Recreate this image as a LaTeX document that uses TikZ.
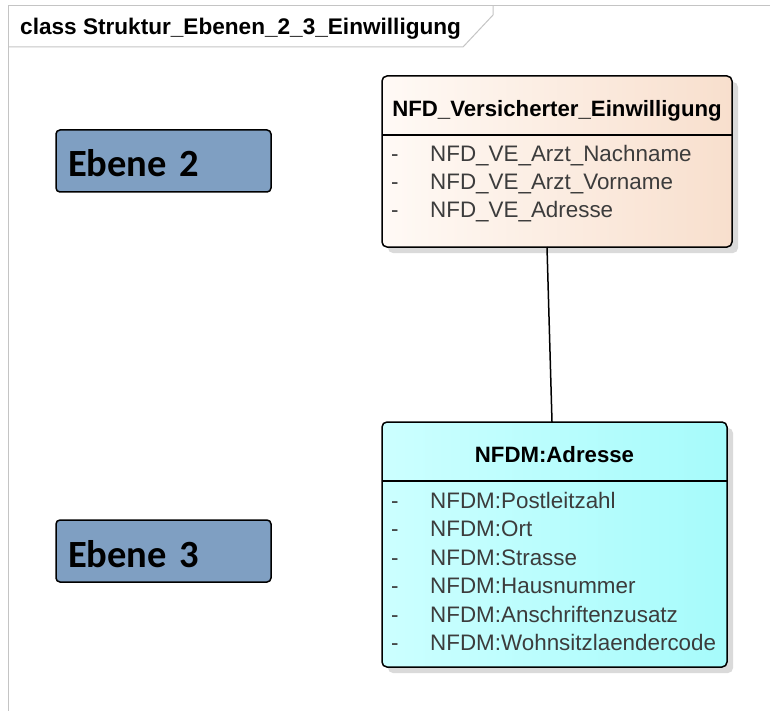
\documentclass[tikz,border=0pt]{standalone}
\usepackage{fontspec}
\setmainfont{Liberation Sans}
\newfontfamily\ebenefont{Carlito}
\usetikzlibrary{positioning,shadows}
\definecolor{frameGray}{HTML}{C4C4C4}
\definecolor{ebeneBlue}{HTML}{7F9FC2}
\definecolor{peachLeft}{HTML}{FFFAF6}
\definecolor{peachRight}{HTML}{F8DFCD}
\definecolor{cyanLeft}{HTML}{CCFFFF}
\definecolor{cyanRight}{HTML}{A6FBFB}
\definecolor{attrGray}{HTML}{3C3C3C}
\definecolor{shadowGray}{HTML}{DADADA}
\tikzset{
    frameline/.style = {
        draw=frameGray,
        line width=1pt
    },
    titlenode/.style = {
        anchor=base west,
        inner sep=0pt,
        font=\bfseries\fontsize{22.6}{26}\selectfont
    },
    ebenenode/.style = {
        rectangle,
        rounded corners=4pt,
        draw=black,
        line width=1.5pt,
        fill=ebeneBlue,
        minimum width=215pt,
        minimum height=62pt,
        text width=191pt,
        inner xsep=12pt,
        inner ysep=0pt,
        text height=32pt,
        text depth=0pt,
        align=left,
        font=\ebenefont\bfseries\fontsize{38.5}{44}\selectfont
    },
    classbox/.style = {
        rectangle,
        rounded corners=5pt,
        draw=black,
        line width=1.5pt,
        inner sep=0pt,
        outer sep=0pt,
        drop shadow={shadow xshift=6pt, shadow yshift=-6pt, fill=shadowGray, opacity=1}
    },
    versbox/.style = {
        classbox,
        left color=peachLeft,
        right color=peachRight
    },
    adrbox/.style = {
        classbox,
        left color=cyanLeft,
        right color=cyanRight
    },
    classhead/.style = {
        anchor=base,
        inner sep=0pt,
        font=\bfseries\fontsize{22.2}{26}\selectfont
    },
    attrnode/.style = {
        anchor=base west,
        inner sep=0pt,
        text=attrGray,
        font=\fontsize{22.4}{26}\selectfont
    },
    dashnode/.style = {
        attrnode
    },
    sepline/.style = {
        draw=black,
        line width=1.2pt
    },
    assocline/.style = {
        draw=black,
        line width=1.5pt
    }
}
\begin{document}
\begin{tikzpicture}[x=1pt, y=-1pt]
    \useasboundingbox (0,0) rectangle (770,711);
    \draw [frameline] (770,5.5) -- (8,5.5) -- (8,711);
    \draw [frameline] (8,47) -- (463,47) -- (493,15) -- (493,5.5);
    \node [titlenode] (title) at (20,35) {class Struktur\_Ebenen\_2\_3\_Einwilligung};

    \node [ebenenode] (ebene2) at (163.5,161) {Ebene 2};
    \node [ebenenode] (ebene3) at (163.5,551) {Ebene 3};

    \node [versbox, minimum width=350pt, minimum height=171pt] (ve) at (557,161.5) {};
    \node [classhead] (vehead) at (557,117) {NFD\_Versicherter\_Einwilligung};
    \draw [sepline] ([yshift=-59pt]ve.north west) -- ([yshift=-59pt]ve.north east);
    \foreach \attr [count=\i] in {NFD\_VE\_Arzt\_Nachname, NFD\_VE\_Arzt\_Vorname, NFD\_VE\_Adresse} {
        \node [dashnode] (vedash\i) at (391,{134+28*\i}) {-};
        \node [attrnode] (veattr\i) at (430,{134+28*\i}) {\attr};
    }

    \node [adrbox, minimum width=345pt, minimum height=245pt] (adr) at (554.5,544.5) {};
    \node [classhead] (adrhead) at (554.5,462) {NFDM:Adresse};
    \draw [sepline] ([yshift=-59pt]adr.north west) -- ([yshift=-59pt]adr.north east);
    \foreach \attr [count=\i] in {NFDM:Postleitzahl, NFDM:Ort, NFDM:Strasse, NFDM:Hausnummer, NFDM:Anschriftenzusatz, NFDM:Wohnsitzlaendercode} {
        \node [dashnode] (adrdash\i) at (391,{480+28.4*\i}) {-};
        \node [attrnode] (adrattr\i) at (430,{480+28.4*\i}) {\attr};
    }

    \draw [assocline] ([xshift=-10pt]ve.south) -- ([xshift=-2.5pt]adr.north);
\end{tikzpicture}
\end{document}
